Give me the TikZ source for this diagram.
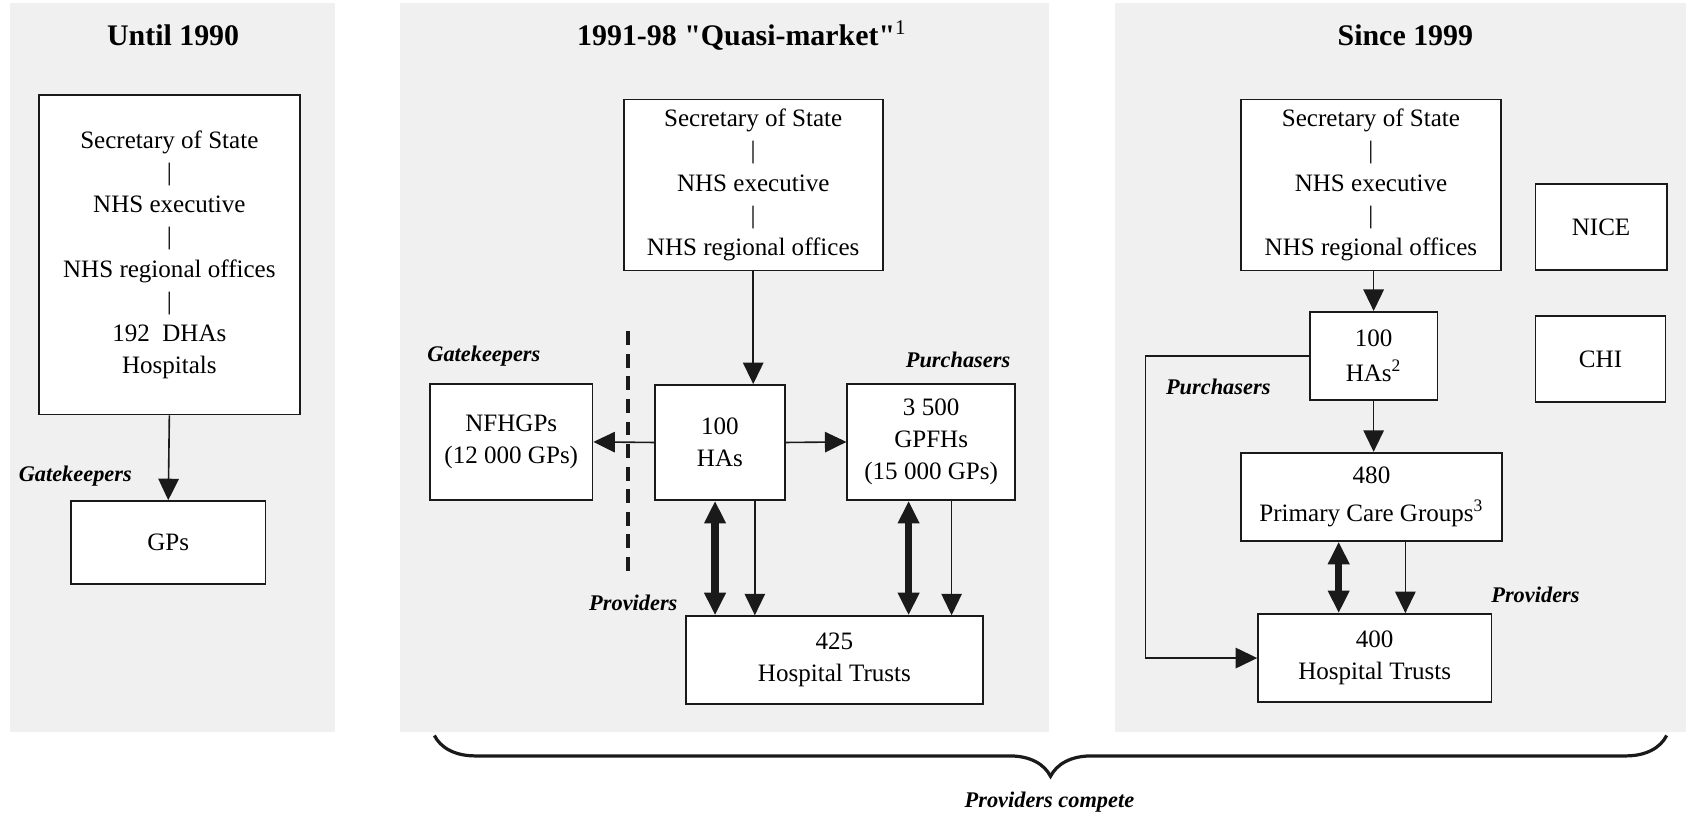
\documentclass[tikz,border=0pt]{standalone}
\usepackage{fontspec}
\setmainfont{Liberation Serif}[Ligatures=TeXOff]
\usetikzlibrary{arrows.meta,positioning,decorations.pathreplacing}
\definecolor{cPanel}{HTML}{F0F0F0}
\definecolor{cLine} {HTML}{1A1A1A}
\tikzset{
  box/.style  ={draw=cLine,fill=white,line width=0.8bp,inner sep=0pt,align=center,
                font=\fontsize{11.65bp}{15bp}\selectfont},
  panel/.style={fill=cPanel},
  ttl/.style  ={font=\fontsize{13.9bp}{16bp}\selectfont\bfseries},
  lbl/.style  ={font=\fontsize{10.4bp}{12bp}\selectfont\bfseries\itshape},
  arr/.style  ={-{Triangle[length=10bp,width=9.5bp]},draw=cLine,line width=0.75bp},
  dbl/.style  ={{Triangle[length=10.5bp,width=9.5bp]}-{Triangle[length=10.5bp,width=9.5bp]},
                draw=cLine,line width=3.5bp},
}

\begin{document}
\begin{tikzpicture}[x=0.5bp,y=0.5bp]
\useasboundingbox (0,0) rectangle (1568,-757);

% three period panels
\fill[panel] (9,-3)    rectangle (312,-681);
\fill[panel] (372,-3)  rectangle (976,-681);
\fill[panel] (1037,-3) rectangle (1568,-681);

\node[ttl] (t1) at (161,-33)  {Until 1990};
\node[ttl] (t2) at (690,-33)  {1991-98 "Quasi-market"\textsuperscript{\mdseries 1}};
\node[ttl] (t3) at (1307,-33) {Since 1999};

% until 1990
\node[box,minimum width=121.5bp,minimum height=148.5bp] (top1) at (157.5,-237)
  {Secretary of State\\|\\NHS executive\\|\\NHS regional offices\\|\\192\ \ DHAs\\Hospitals};
\node[box,minimum width=90.5bp,minimum height=38.5bp] (gps1) at (156.5,-504.5) {GPs};
\draw[arr] (top1.south) -- (gps1.north);
\node[lbl] (gk1) at (70,-443) {Gatekeepers};

% 1991-98 quasi-market
\node[box,minimum width=120.5bp,minimum height=79.5bp] (top2) at (700.5,-172)
  {Secretary of State\\|\\NHS executive\\|\\NHS regional offices};
\node[box,minimum width=60.5bp,minimum height=53.5bp] (has2) at (669.5,-411.5) {100\\HAs};
\node[box,minimum width=75.5bp,minimum height=54bp]   (nfh)  at (475.5,-411)   {NFHGPs\\(12 000 GPs)};
\node[box,minimum width=78bp,minimum height=54bp]     (gpfh) at (866,-411)     {3 500\\GPFHs\\(15 000 GPs)};
\node[box,minimum width=138bp,minimum height=41bp]    (ht2)  at (776,-614)     {425\\Hospital Trusts};

\draw[arr] (top2.south) -- (top2.south |- has2.north);
\draw[arr] (has2.west) -- (nfh.east);
\draw[arr] (has2.east) -- (gpfh.west);
\draw[dbl] ([xshift=-2.25bp]has2.south) -- ([xshift=-2.25bp]has2.south |- ht2.north);
\draw[arr] ([xshift=16.25bp]has2.south) -- ([xshift=16.25bp]has2.south |- ht2.north);
\draw[dbl] ([xshift=-10.5bp]gpfh.south) -- ([xshift=-10.5bp]gpfh.south |- ht2.north);
\draw[arr] ([xshift=9.5bp]gpfh.south)   -- ([xshift=9.5bp]gpfh.south |- ht2.north);

% divider between gatekeepers and purchasers
\coordinate (dvTop) at (584,-308);
\coordinate (dvBot) at (584,-535);
\draw[cLine,line width=2bp,dash pattern=on 6.5bp off 4bp] (dvTop) -- (dvBot);

\node[lbl] (gk2) at (450,-331) {Gatekeepers};
\node[lbl] (pu2) at (891,-335) {Purchasers};
\node[lbl] (pr2) at (589,-561) {Providers};

% since 1999
\node[box,minimum width=121bp,minimum height=79.5bp] (top3) at (1275,-172)
  {Secretary of State\\|\\NHS executive\\|\\NHS regional offices};
\node[box,minimum width=61bp,minimum height=40bp]    (nice) at (1489,-211)   {NICE};
\node[box,minimum width=60.5bp,minimum height=40bp]  (chi)  at (1488.5,-334) {CHI};
\node[box,minimum width=59.5bp,minimum height=41bp]  (has3) at (1277.5,-331) {100\\[1bp]HAs\textsuperscript{2}};
\node[box,minimum width=121.5bp,minimum height=41bp] (pcg)  at (1275.5,-462) {480\\[2.5bp]Primary Care Groups\textsuperscript{3}};
\node[box,minimum width=108.5bp,minimum height=41bp] (ht3)  at (1278.5,-612) {400\\Hospital Trusts};

\draw[arr] (has3.north |- top3.south) -- (has3.north);
\draw[arr] (has3.south) -- (has3.south |- pcg.north);
\draw[dbl] ([xshift=-15.25bp]pcg.south) -- ([xshift=-15.25bp]pcg.south |- ht3.north);
\draw[arr] ([xshift=15.75bp]pcg.south)  -- ([xshift=15.75bp]pcg.south |- ht3.north);
\draw[arr] (has3.west) -- ++(-152,0) |- (ht3.west);

\node[lbl] (pu3) at (1133,-360) {Purchasers};
\node[lbl] (pr3) at (1428,-553) {Providers};

% providers compete across the two later periods
\coordinate (brL) at (404,-684);
\coordinate (brR) at (1550,-684);
\draw[cLine,line width=1.5bp,decorate,decoration={brace,amplitude=19bp,mirror}] (brL) -- (brR);
\node[lbl] (cmp) at (976,-746) {Providers compete};
\end{tikzpicture}
\end{document}
